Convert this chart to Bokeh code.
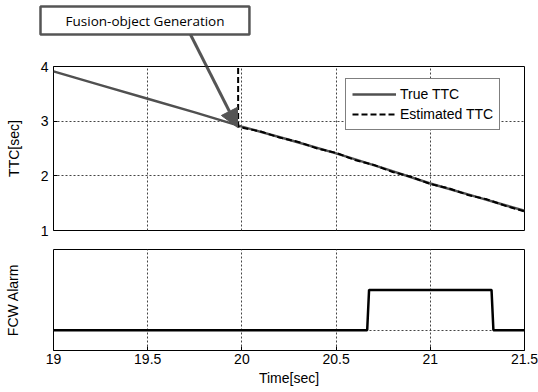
from bokeh.plotting import figure
from bokeh.layouts import column
from bokeh.models import (Range1d, FixedTicker, Arrow, NormalHead, Legend,
                          LegendItem, CustomJSTickFormatter)
from bokeh.core.properties import value
from bokeh.embed import file_html
from bokeh.resources import INLINE

# ---- data ----
x_ticks = [19.0, 19.5, 20.0, 20.5, 21.0, 21.5]
ttc_ticks = [1, 2, 3, 4]

true_t = [19.0, 19.25, 19.5, 19.75, 20.0, 20.25, 20.5, 20.75, 21.0, 21.25, 21.5]
true_ttc = [3.91, 3.66, 3.41, 3.16, 2.90, 2.66, 2.41, 2.14, 1.86, 1.61, 1.36]

est_t = [19.98, 19.98, 20.0, 20.1, 20.2, 20.3, 20.4, 20.5, 20.6, 20.7, 20.8, 20.9,
         21.0, 21.1, 21.2, 21.3, 21.4, 21.5]
est_ttc = [4.3, 2.90, 2.88, 2.81, 2.70, 2.62, 2.50, 2.42, 2.29, 2.20, 2.07, 1.98,
           1.85, 1.77, 1.65, 1.57, 1.45, 1.35]

alarm_t = [19.0, 20.665, 20.675, 21.325, 21.335, 21.5]
alarm_v = [0, 0, 1, 1, 0, 0]

annot_text = "Fusion-object Generation"
annot_box = dict(left=18.931, right=20.040, bottom=4.585, top=5.097)
annot_xy = (19.486, 4.84)
arrow_from = (19.727, 4.585)
arrow_to = (19.977, 2.885)

# ---- layout constants (pixels) ----
W, H = 538, 392
FR_L, FR_R = 53, 524          # frame left/right
TOP_H = 66                    # annotation strip height (frame top of TTC plot)
OVER = 10                     # overlap of TTC plot canvas onto the strip
P1_FRAME_H, P1_BOT = 164, 10
P2_TOP, P2_FRAME_H = 9, 101
P2_H = H - TOP_H - P1_FRAME_H - P1_BOT

X0, X1 = 19.0, 21.5
Y0, Y1 = 1.0, 4.0
px_per_x = (FR_R - FR_L) / (X1 - X0)
px_per_y = P1_FRAME_H / (Y1 - Y0)

FONT = "Liberation Sans"
GRID_DASH = "2 2"
GRID_COLOR = "#444444"
GRAY = "#555555"

fmt = CustomJSTickFormatter(code="return tick.toString()")

# ---- annotation strip (same x/y scale as the TTC plot) ----
p0 = figure(width=W, height=TOP_H,
            x_range=Range1d(X0 - FR_L / px_per_x, X1 + (W - FR_R) / px_per_x),
            y_range=Range1d(Y1, Y1 + TOP_H / px_per_y),
            output_backend="svg", toolbar_location=None,
            x_axis_location=None, y_axis_location=None,
            min_border_left=0, min_border_right=0, min_border_top=0, min_border_bottom=0)
p0.frame_align = False
p0.outline_line_color = None
p0.grid.visible = False
p0.add_layout(Arrow(end=None, x_start=arrow_from[0], y_start=arrow_from[1],
                    x_end=arrow_to[0], y_end=arrow_to[1],
                    line_color=GRAY, line_width=3))
p0.quad(fill_color="white", line_color=GRAY, line_width=2.5, **{k: [v] for k, v in annot_box.items()})
p0.text(x=[annot_xy[0]], y=[annot_xy[1]], text=[annot_text], text_align="center",
        text_baseline="middle", text_font=value("Open Sans"), text_font_size="13.5px",
        text_color="black")

# ---- top plot ----
p1 = figure(width=W, height=OVER + P1_FRAME_H + P1_BOT, x_range=Range1d(X0, X1),
            y_range=Range1d(Y0, Y1),
            output_backend="svg", toolbar_location=None,
            min_border_left=FR_L, min_border_right=W - FR_R, min_border_top=OVER,
            min_border_bottom=P1_BOT)
p1.margin = (-OVER, 0, 0, 0)
p1.border_fill_alpha = 0
p1.outline_line_color = "black"
p1.xaxis.visible = False
p1.xgrid.ticker = FixedTicker(ticks=x_ticks)
p1.yaxis.ticker = FixedTicker(ticks=ttc_ticks)
p1.yaxis.formatter = fmt
p1.yaxis.axis_line_color = None
p1.yaxis.major_tick_in = 4
p1.yaxis.major_tick_out = 0
p1.yaxis.minor_tick_line_color = None
p1.yaxis.major_label_standoff = 5
p1.yaxis.major_label_text_font = FONT
p1.yaxis.major_label_text_font_size = "14px"
p1.yaxis.major_label_text_color = "black"
p1.yaxis.axis_label = "TTC[sec]"
p1.yaxis.axis_label_text_font = FONT
p1.yaxis.axis_label_text_font_size = "14px"
p1.yaxis.axis_label_text_font_style = "normal"
p1.yaxis.axis_label_text_color = "black"
p1.yaxis.axis_label_standoff = 16
for g in (p1.xgrid, p1.ygrid):
    g.grid_line_color = GRID_COLOR
    g.grid_line_dash = GRID_DASH
    g.grid_line_width = 1

r1 = p1.line(true_t, true_ttc, line_color="#505050", line_width=2.5)
r2 = p1.line(est_t, est_ttc, line_color="black", line_width=2, line_dash="6 3")

legend = Legend(items=[LegendItem(label="True TTC", renderers=[r1]),
                       LegendItem(label="Estimated TTC", renderers=[r2])],
                location=(292, 100))
legend.label_text_font = FONT
legend.label_text_font_size = "14px"
legend.label_text_color = "black"
legend.border_line_color = "black"
legend.border_line_width = 1
legend.padding = 6
legend.spacing = 2
legend.margin = 0
legend.label_height = 18
legend.glyph_height = 18
legend.glyph_width = 44
legend.label_standoff = 4
legend.background_fill_alpha = 1
p1.add_layout(legend)

p1.add_layout(Arrow(end=NormalHead(size=18, fill_color=GRAY, line_color=GRAY),
                    x_start=arrow_from[0], y_start=arrow_from[1],
                    x_end=arrow_to[0], y_end=arrow_to[1],
                    line_color=GRAY, line_width=3))

# ---- bottom plot ----
p2 = figure(width=W, height=P2_H, x_range=p1.x_range, y_range=Range1d(-0.5, 2),
            output_backend="svg", toolbar_location=None,
            min_border_left=FR_L, min_border_right=W - FR_R, min_border_top=P2_TOP,
            min_border_bottom=P2_H - P2_TOP - P2_FRAME_H)
p2.outline_line_color = "black"
p2.xaxis.ticker = FixedTicker(ticks=x_ticks)
p2.xaxis.formatter = fmt
p2.xaxis.axis_line_color = None
p2.xaxis.major_tick_in = 4
p2.xaxis.major_tick_out = 0
p2.xaxis.minor_tick_line_color = None
p2.xaxis.major_label_standoff = 3
p2.xaxis.major_label_text_font = FONT
p2.xaxis.major_label_text_font_size = "14px"
p2.xaxis.major_label_text_color = "black"
p2.xaxis.axis_label = "Time[sec]"
p2.xaxis.axis_label_text_font = FONT
p2.xaxis.axis_label_text_font_size = "14px"
p2.xaxis.axis_label_text_font_style = "normal"
p2.xaxis.axis_label_text_color = "black"
p2.xaxis.axis_label_standoff = 3

p2.yaxis.ticker = FixedTicker(ticks=[0])
p2.yaxis.major_label_overrides = {0: ""}
p2.yaxis.axis_line_color = None
p2.yaxis.major_tick_line_color = None
p2.yaxis.minor_tick_line_color = None
p2.yaxis.major_label_standoff = 0
p2.yaxis.axis_label = "FCW Alarm"
p2.yaxis.axis_label_text_font = FONT
p2.yaxis.axis_label_text_font_size = "14px"
p2.yaxis.axis_label_text_font_style = "normal"
p2.yaxis.axis_label_text_color = "black"
p2.yaxis.axis_label_standoff = 27
for g in (p2.xgrid, p2.ygrid):
    g.grid_line_color = GRID_COLOR
    g.grid_line_dash = GRID_DASH
    g.grid_line_width = 1

p2.line(alarm_t, alarm_v, line_color="black", line_width=2.5)

layout = column(p0, p1, p2, spacing=0)
open("out.html", "w").write(file_html(layout, INLINE))
